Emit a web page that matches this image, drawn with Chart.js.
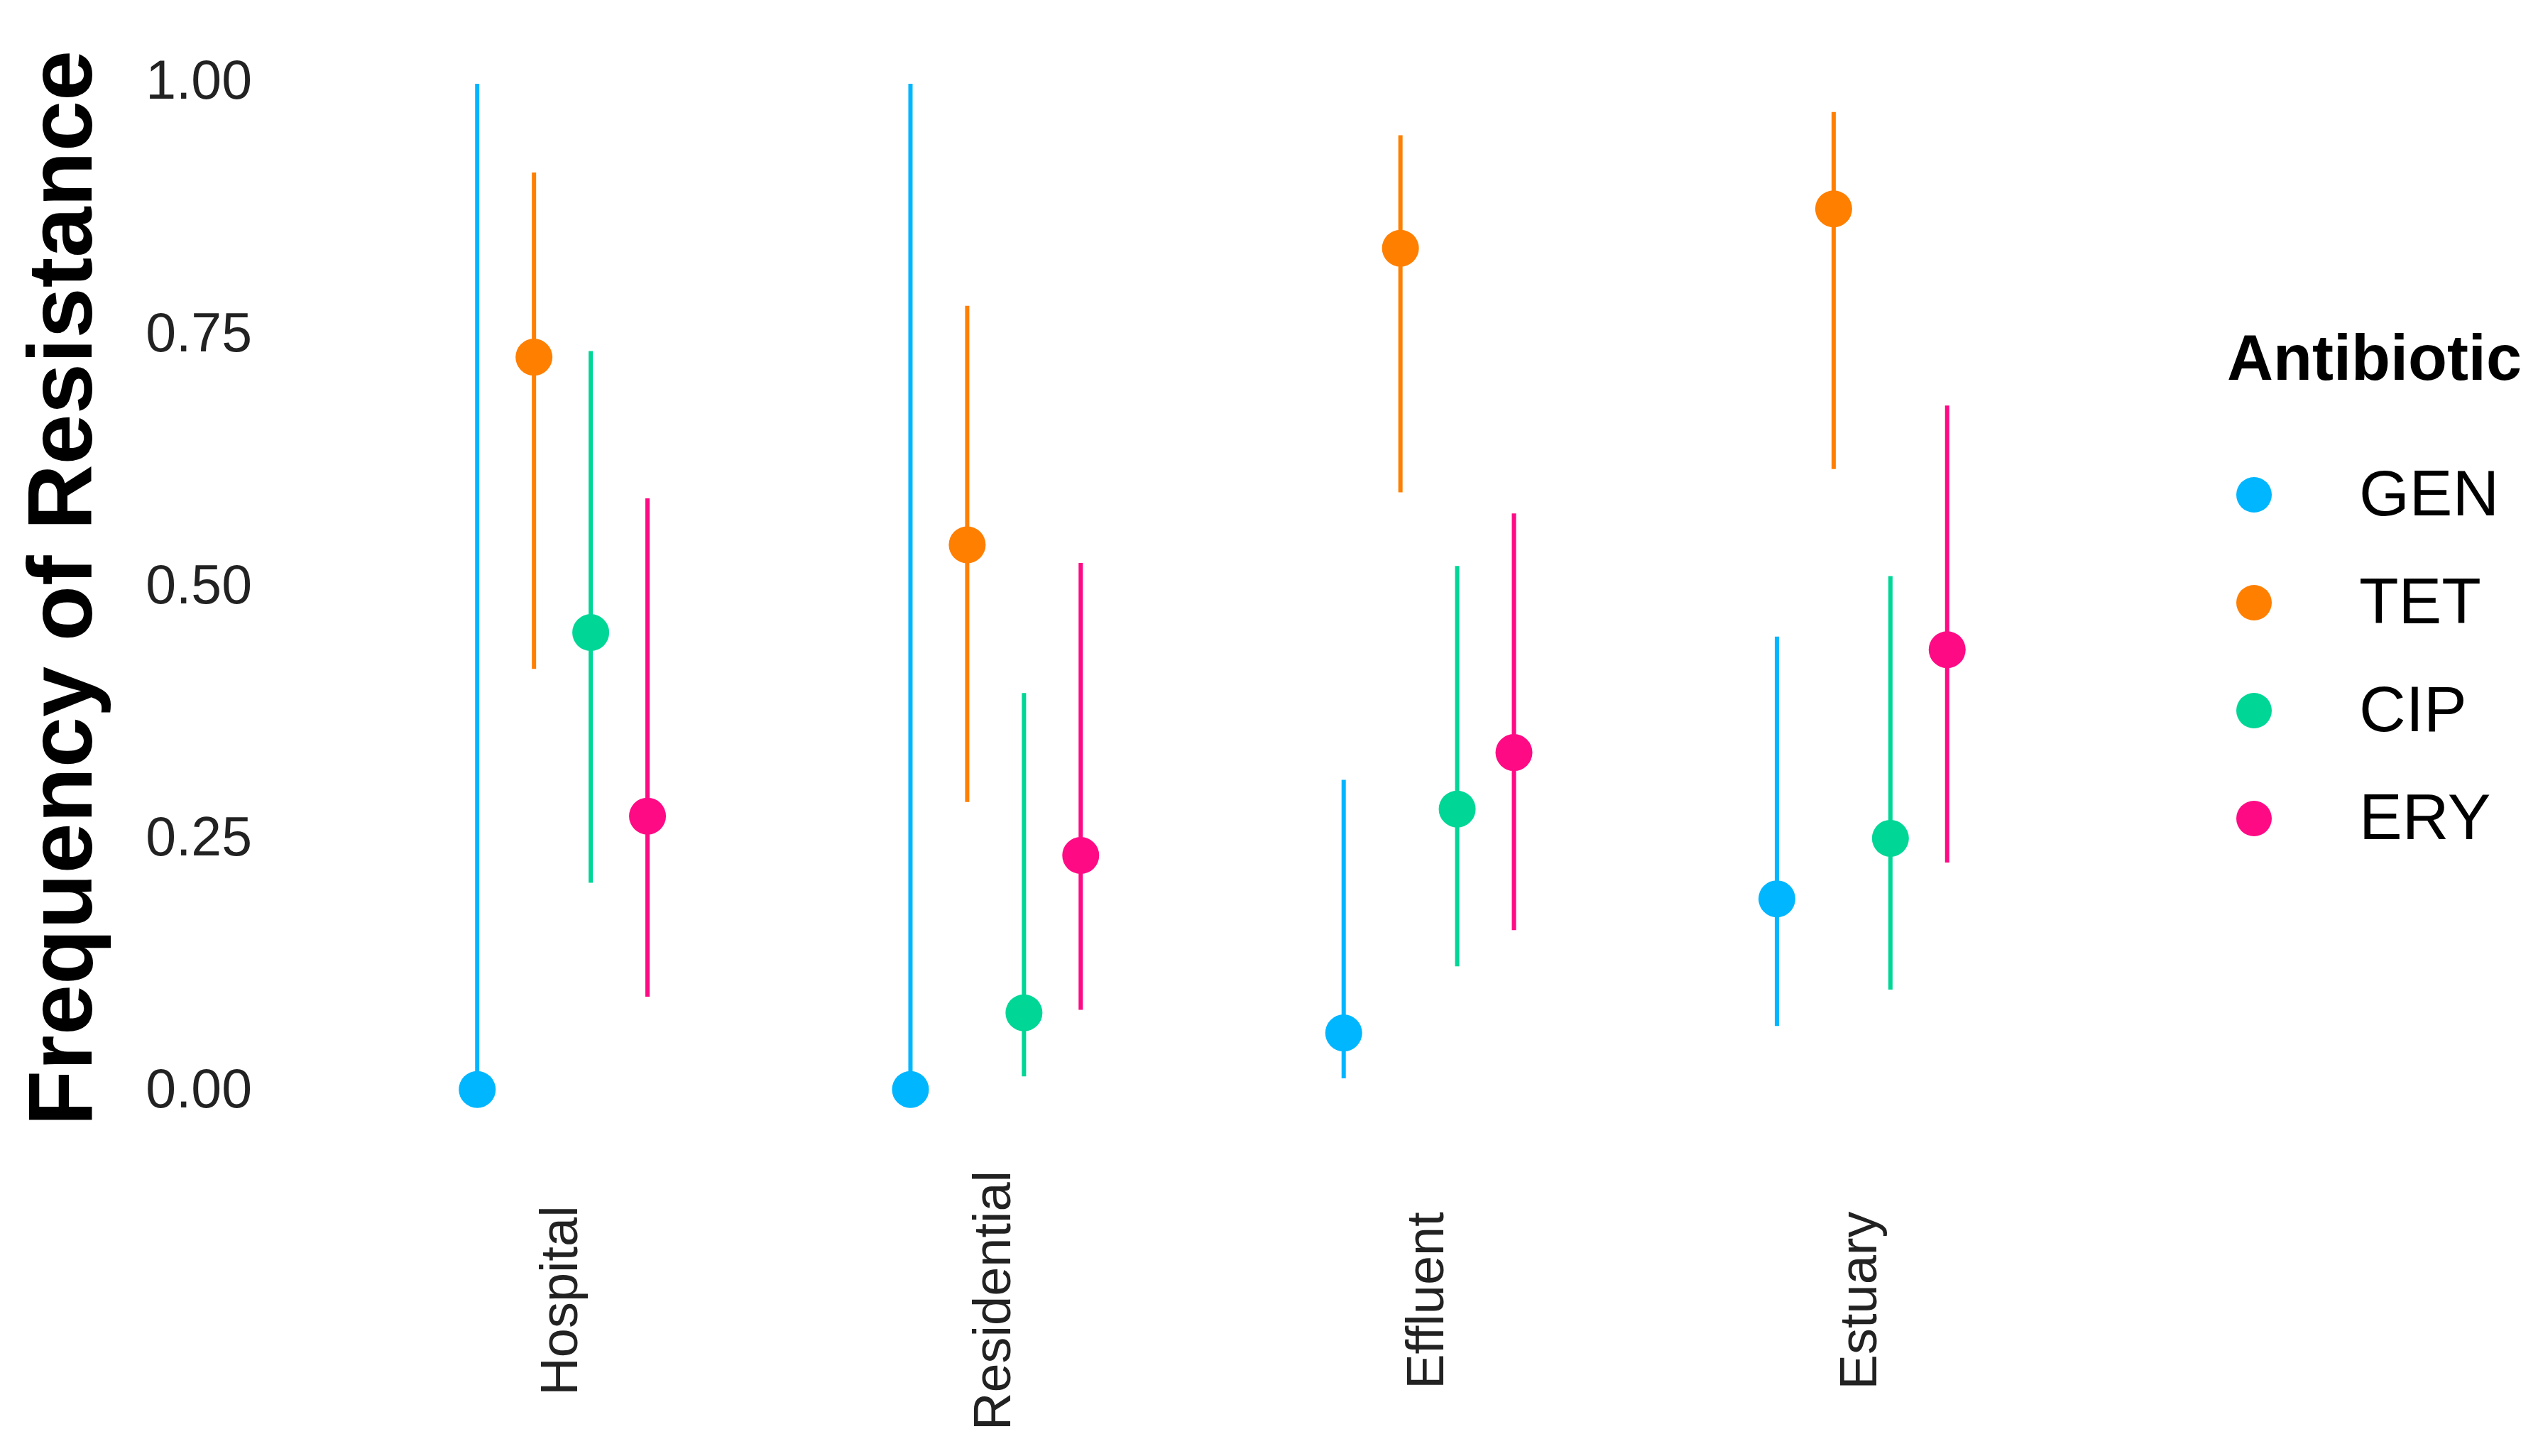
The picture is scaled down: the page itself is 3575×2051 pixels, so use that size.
<!DOCTYPE html>
<html>
<head>
<meta charset="utf-8">
<title>Frequency of Resistance</title>
<script src="https://cdn.jsdelivr.net/npm/chart.js@4.4.1/dist/chart.umd.min.js"></script>
<style>
  html, body { margin: 0; padding: 0; background: #ffffff; }
  #chart { display: block; }
</style>
</head>
<body>
<canvas id="chart" width="3575" height="2051"></canvas>
<script>
/* categories */
var sites = ["Hospital", "Residential", "Effluent", "Estuary"];
var antibiotics = ["GEN", "TET", "CIP", "ERY"];
var yTicks = [0, 0.25, 0.5, 0.75, 1];

/* estimates with lower / upper bounds, one value per site */
var genMean = [0.003, 0.003, 0.059, 0.192];
var genLow  = [0.000, 0.000, 0.014, 0.066];
var genHigh = [1.000, 1.000, 0.310, 0.452];

var tetMean = [0.729, 0.543, 0.837, 0.876];
var tetLow  = [0.420, 0.288, 0.595, 0.618];
var tetHigh = [0.912, 0.780, 0.949, 0.972];

var cipMean = [0.456, 0.079, 0.281, 0.252];
var cipLow  = [0.208, 0.016, 0.125, 0.102];
var cipHigh = [0.735, 0.396, 0.522, 0.512];

var eryMean = [0.274, 0.235, 0.337, 0.439];
var eryLow  = [0.095, 0.082, 0.161, 0.228];
var eryHigh = [0.589, 0.525, 0.574, 0.681];

var colors = ["#00B6FF", "#FF7F00", "#00D696", "#FF0A85"];

var FONT = '"Liberation Sans", Arial, Helvetica, sans-serif';
var dodge = 0.131;

function makeSet(idx, mean, low, high) {
    var pts = [];
    var i;
    for (i = 0; i < sites.length; i++) {
        pts.push({ x: i + (idx - 1.5) * dodge, y: mean[i] });
    }
    return {
        label: antibiotics[idx],
        data: pts,
        low: low,
        high: high,
        backgroundColor: colors[idx],
        borderColor: colors[idx],
        pointRadius: 26,
        pointBorderWidth: 0,
        pointHoverRadius: 26,
        showLine: false
    };
}

/* error bars: vertical segments drawn from the scales */
var errorBars = {
    id: "errorBars",
    beforeDatasetsDraw: function(chart) {
        var ctx = chart.ctx;
        var xs = chart.scales.x;
        var ys = chart.scales.y;
        chart.data.datasets.forEach(function(ds) {
            ctx.save();
            ctx.strokeStyle = ds.borderColor;
            ctx.lineWidth = 6;
            ds.data.forEach(function(p, i) {
                var px = xs.getPixelForValue(p.x);
                ctx.beginPath();
                ctx.moveTo(px, ys.getPixelForValue(ds.low[i]));
                ctx.lineTo(px, ys.getPixelForValue(ds.high[i]));
                ctx.stroke();
            });
            ctx.restore();
        });
    }
};

/* rotated site names under each group, centred like ggplot */
var siteLabels = {
    id: "siteLabels",
    afterDraw: function(chart) {
        var ctx = chart.ctx;
        var xs = chart.scales.x;
        ctx.save();
        ctx.fillStyle = "#222222";
        ctx.font = "74px " + FONT;
        ctx.textAlign = "center";
        ctx.textBaseline = "middle";
        sites.forEach(function(name, i) {
            ctx.save();
            ctx.translate(xs.getPixelForValue(i), chart.chartArea.bottom + 222);
            ctx.rotate(-Math.PI / 2);
            ctx.fillText(name, 0, 0);
            ctx.restore();
        });
        ctx.restore();
    }
};

/* legend on the right */
var sideLegend = {
    id: "sideLegend",
    afterDraw: function(chart) {
        var ctx = chart.ctx;
        var left = chart.chartArea.right + 148;
        ctx.save();
        ctx.fillStyle = "#000000";
        ctx.font = "bold 90px " + FONT;
        ctx.textAlign = "left";
        ctx.textBaseline = "alphabetic";
        ctx.fillText("Antibiotic", left, 535);

        ctx.font = "91px " + FONT;
        ctx.textBaseline = "middle";
        chart.data.datasets.forEach(function(ds, i) {
            var cy = 697 + i * 152;
            ctx.fillStyle = ds.backgroundColor;
            ctx.beginPath();
            ctx.arc(left + 38, cy, 25, 0, Math.PI * 2);
            ctx.fill();
            ctx.fillStyle = "#000000";
            ctx.fillText(ds.label, left + 186, cy + 4);
        });
        ctx.restore();
    }
};

window.onload = function() {
    var ctx = document.getElementById("chart").getContext("2d");
    window.theChart = new Chart(ctx, {
        type: "scatter",
        data: {
            datasets: [
                makeSet(0, genMean, genLow, genHigh),
                makeSet(1, tetMean, tetLow, tetHigh),
                makeSet(2, cipMean, cipLow, cipHigh),
                makeSet(3, eryMean, eryLow, eryHigh)
            ]
        },
        options: {
            responsive: false,
            animation: false,
            devicePixelRatio: 1,
            layout: {
                padding: { left: 0, top: 47, right: 586, bottom: 441 }
            },
            plugins: {
                legend: { display: false },
                tooltip: { enabled: false }
            },
            scales: {
                x: {
                    type: "linear",
                    min: -0.6,
                    max: 3.6,
                    display: false
                },
                y: {
                    type: "linear",
                    min: -0.05,
                    max: 1.05,
                    /* tick marks are not drawn (grid hidden) but their length keeps the labels off the panel */
                    grid: { display: false, drawTicks: true, tickLength: 71 },
                    border: { display: false },
                    afterBuildTicks: function(scale) {
                        scale.ticks = yTicks.map(function(v) { return { value: v }; });
                    },
                    afterFit: function(scale) {
                        scale.width = 426;
                    },
                    ticks: {
                        padding: 0,
                        color: "#222222",
                        font: { family: FONT, size: 77 },
                        callback: function(v) { return Number(v).toFixed(2); }
                    },
                    title: {
                        display: true,
                        text: "Frequency of Resistance",
                        color: "#000000",
                        font: { family: FONT, size: 128, weight: "bold" },
                        padding: { top: 17, bottom: 0 }
                    }
                }
            }
        },
        plugins: [errorBars, siteLabels, sideLegend]
    });
};
</script>
</body>
</html>
